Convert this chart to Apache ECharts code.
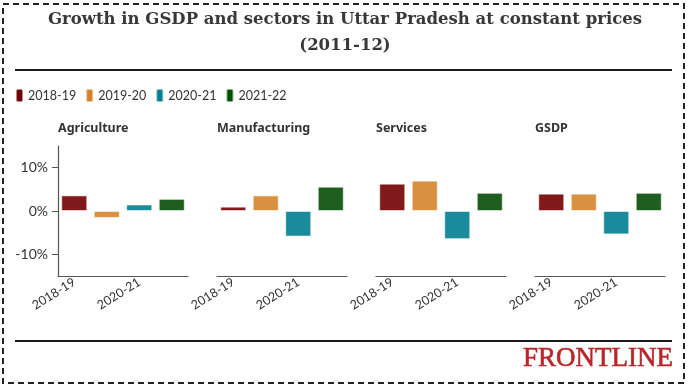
<!DOCTYPE html>
<html>
<head>
<meta charset="utf-8">
<script src="https://cdn.jsdelivr.net/npm/echarts@6/dist/echarts.min.js"></script>
<style>html,body{margin:0;padding:0;background:#fff}#c{width:690px;height:391px}</style>
</head>
<body>
<div id="c"></div>
<script>
const years = ['2018-19', '2019-20', '2020-21', '2021-22'];
const panels = ['Agriculture', 'Manufacturing', 'Services', 'GSDP'];
const agriculture = [3.6, -1.6, 1.5, 2.8];
const manufacturing = [1.0, 3.6, -5.9, 5.6];
const services = [6.3, 7.0, -6.5, 4.2];
const gsdp = [4.0, 4.0, -5.4, 4.2];
const yTicks = [-10, 0, 10];
const panelValues = [agriculture, manufacturing, services, gsdp];

const barColors = ['#801a1a', '#d89140', '#1a8b9a', '#1f5e1f'];
const legendColors = ['#6e0000', '#d4832b', '#00808e', '#005100'];
const FONT = 'Lato';

const grids = [], xAxes = [], yAxes = [], series = [], graphics = [];
panels.forEach((p, i) => {
  const left = 58 + i * 159;
  grids.push({left: left, top: 146, width: 130, height: 130});
  xAxes.push({
    type: 'category', gridIndex: i, data: years,
    axisLine: {onZero: false, lineStyle: {color: '#555', width: 1.2}},
    axisTick: {alignWithLabel: true, length: 8, lineStyle: {color: '#777', width: 1.2}},
    axisLabel: {interval: 1, rotate: 32, margin: 5, color: '#333', fontFamily: FONT, fontSize: 12.5}
  });
  yAxes.push({
    type: 'value', gridIndex: i, min: -15, max: 15,
    splitLine: {show: false},
    axisLine: {show: i === 0, lineStyle: {color: '#555', width: 1.2}},
    axisTick: {show: i === 0, length: 6, customValues: yTicks, lineStyle: {color: '#555'}},
    axisLabel: {show: i === 0, customValues: yTicks, margin: 10, color: '#333', fontFamily: FONT, fontSize: 14,
      formatter: v => v + '%'}
  });
  years.forEach((y, j) => {
    const d = years.map((_, k) => k === j ? panelValues[i][k] : null);
    series.push({
      type: 'bar', name: y, xAxisIndex: i, yAxisIndex: i, data: d,
      barGap: '-100%', barCategoryGap: '20%',
      itemStyle: {color: barColors[j], borderColor: 'rgba(255,255,255,0.55)', borderWidth: 1},
      emphasis: {disabled: true}
    });
  });
  graphics.push({type: 'text', x: left, y: 128,
    style: {text: p, font: 'bold 12.5px "Noto Sans"', fill: '#333', verticalAlign: 'middle'}});
});

graphics.push(
  {type: 'rect', shape: {x: 3, y: 4, width: 681, height: 379},
    style: {fill: 'none', stroke: '#222', lineWidth: 2, lineDash: [6, 4]}},
  {type: 'text', x: 345, y: 20,
    style: {text: 'Growth in GSDP and sectors in Uttar Pradesh at constant prices',
      font: 'bold 16.5px "DejaVu Serif"', fill: '#383838', align: 'center', verticalAlign: 'middle'}},
  {type: 'text', x: 345, y: 46,
    style: {text: '(2011-12)',
      font: 'bold 16.5px "DejaVu Serif"', fill: '#383838', align: 'center', verticalAlign: 'middle'}},
  {type: 'line', shape: {x1: 15, y1: 70, x2: 672, y2: 70}, style: {stroke: '#1a1a1a', lineWidth: 2}},
  {type: 'line', shape: {x1: 15, y1: 341, x2: 672, y2: 341}, style: {stroke: '#1a1a1a', lineWidth: 2}},
  {type: 'text', x: 673, y: 359,
    style: {text: 'FRONTLINE', font: '27px "Liberation Serif"', fill: '#b8262a',
      stroke: '#b8262a', lineWidth: 0.6, align: 'right', verticalAlign: 'middle'}}
);

const chart = echarts.init(document.getElementById('c'), null, {renderer: 'canvas'});
chart.setOption({
  animation: false,
  legend: {
    data: years.map((y, j) => ({name: y, itemStyle: {color: legendColors[j]}})),
    left: 15, top: 88, padding: 0, icon: 'roundRect', itemWidth: 7, itemHeight: 13, itemGap: 9,
    textStyle: {color: '#333', fontFamily: FONT, fontSize: 12.5}
  },
  grid: grids, xAxis: xAxes, yAxis: yAxes, series: series, graphic: graphics
});
</script>
</body>
</html>
